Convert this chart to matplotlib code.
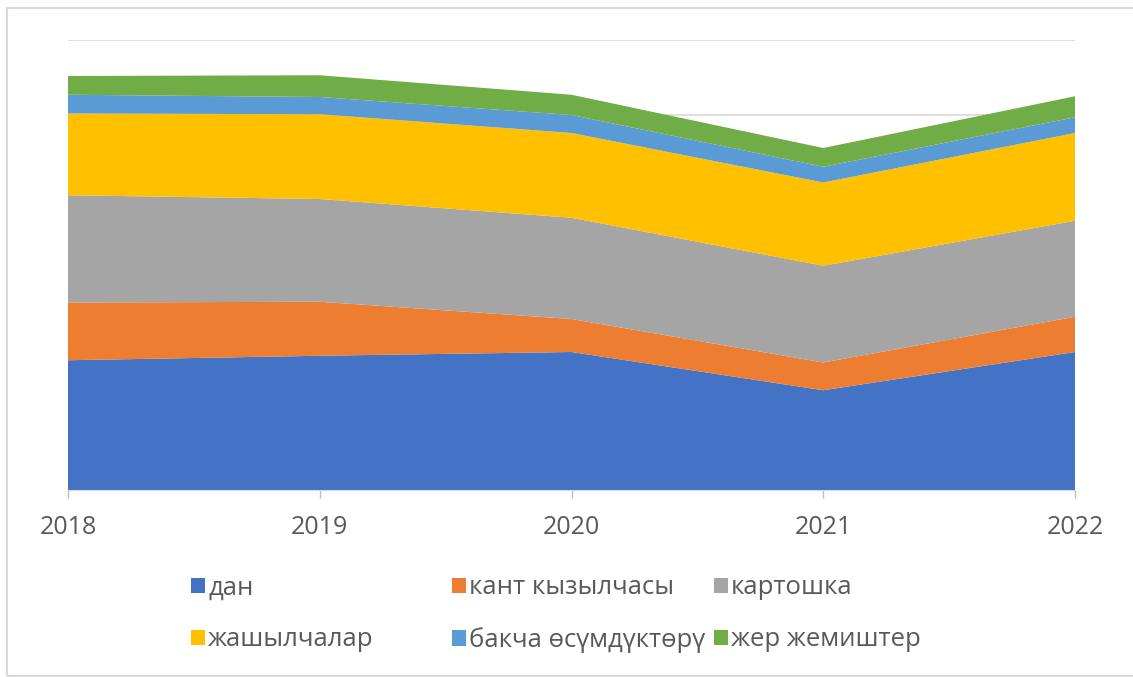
import numpy as np
import matplotlib
matplotlib.use('Agg')
import matplotlib.pyplot as plt
from matplotlib.patches import Rectangle

plt.rcParams['font.family'] = ['Open Sans', 'DejaVu Sans']

#Data (gridline step = 1)
years = [2018, 2019, 2020, 2021, 2022]
names = ['дан', 'кант кызылчасы', 'картошка',
         'жашылчалар', 'бакча өсүмдүктөрү', 'жер жемиштер']
dan      = [1.73, 1.79, 1.84, 1.33, 1.84]
kant     = [0.77, 0.72, 0.44, 0.37, 0.47]
kartoshka = [1.43, 1.37, 1.35, 1.29, 1.28]
jashyl   = [1.09, 1.13, 1.13, 1.11, 1.17]
bakcha   = [0.25, 0.23, 0.24, 0.21, 0.21]
jer      = [0.25, 0.29, 0.27, 0.25, 0.28]
colors = ['#4472C4', '#ED7D31', '#A5A5A5', '#FFC000', '#5B9BD5', '#70AD47']

W, H = 1133, 677
fig = plt.figure(figsize=(W/100, H/100), dpi=100)
ax = fig.add_axes([68/W, 1-490/H, (1075-68)/W, 450/H])

polys = ax.stackplot(years, dan, kant, kartoshka, jashyl, bakcha, jer,
                     colors=colors, linewidth=0, zorder=2)

ax.set_xlim(years[0], years[-1])
ax.set_ylim(0, 6)
ax.set_yticks(np.arange(0, 7, 1))
ax.yaxis.grid(True, color='#d9d9d9', linewidth=1.2, zorder=0)
ax.set_axisbelow(True)
ax.tick_params(axis='y', left=False, labelleft=False)
ax.set_xticks(years)
ax.tick_params(axis='x', colors='#bfbfbf', length=6, width=1,
               labelcolor='#595959', labelsize=18, pad=12)
for s in ['top', 'right', 'left']:
    ax.spines[s].set_visible(False)
ax.spines['bottom'].set_color('#d9d9d9')
ax.spines['bottom'].set_zorder(3)

#outer chart border
fig.patches.append(Rectangle((7/W, 1-676/H), 1.2, (676-8)/H, transform=fig.transFigure,
                             fill=False, edgecolor='#d9d9d9', linewidth=1.5))

#legend, one entry at a time (Excel-style equal columns)
leg_x = [191, 452, 714]
leg_y = [588, 640]
for i, (p, n) in enumerate(zip(polys, names)):
    x = leg_x[i % 3]
    y = leg_y[i // 3]
    fig.legend(handles=[p], labels=[n], loc='center left',
               bbox_to_anchor=(x/W, 1-y/H), frameon=False,
               fontsize=18.5, labelcolor='#595959',
               handlelength=0.55, handleheight=0.55, handletextpad=0.12,
               borderpad=0, borderaxespad=0)

plt.savefig('out.png', dpi=100)
